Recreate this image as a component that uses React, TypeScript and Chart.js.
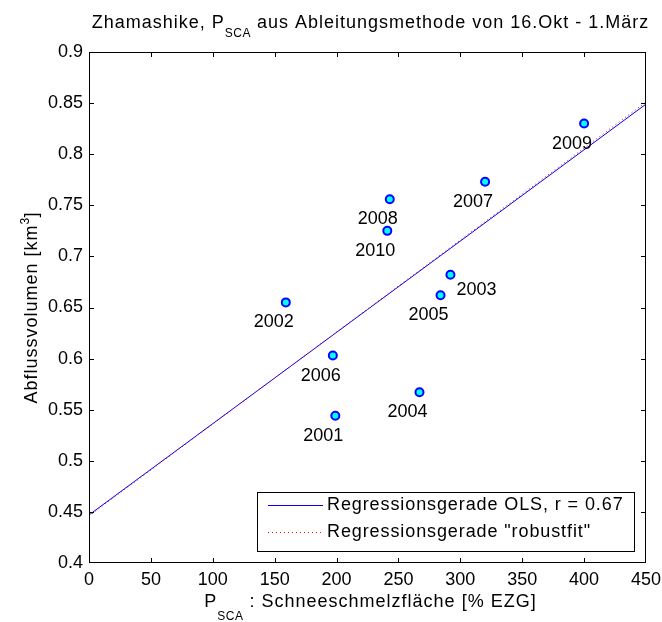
import { useEffect, useRef } from "react";
import { Chart, registerables } from "chart.js";

Chart.register(...registerables);

// ---------- data ----------
const years = ["2001", "2002", "2003", "2004", "2005", "2006", "2007", "2008", "2009", "2010"];
const pscaValues = [199, 159, 292, 267, 284, 197, 320, 243, 400, 241];
const volumeValues = [0.544, 0.655, 0.682, 0.567, 0.662, 0.603, 0.773, 0.756, 0.83, 0.725];

const fitX = [0, 450];
const olsY = [0.447, 0.849];
const robustY = [0.446, 0.851];

const xTicks = [0, 50, 100, 150, 200, 250, 300, 350, 400, 450];
const yTicks = [0.4, 0.45, 0.5, 0.55, 0.6, 0.65, 0.7, 0.75, 0.8, 0.85, 0.9];

const legendLabels = ["Regressionsgerade OLS, r = 0.67", 'Regressionsgerade "robustfit"'];
const titleParts = ["Zhamashike, P", "SCA", " aus Ableitungsmethode von 16.Okt - 1.März"];
const xTitleParts = ["P", "SCA", " : Schneeschmelzfläche [% EZG]"];
const yTitleParts = ["Abflussvolumen [km", "3", "]"];

const FAMILY = "'Liberation Sans', Arial, Helvetica, sans-serif";
const MAIN = `18px ${FAMILY}`;
const SMALL = `12px ${FAMILY}`;

const matlabPlugin = {
  id: "matlabDecor",
  afterDatasetsDraw(chart: any) {
    const ctx: any = chart.ctx;
    const { left, right, top, bottom } = chart.chartArea;
    const xs = chart.scales.x;
    const ys = chart.scales.y;
    ctx.save();

    // year labels
    ctx.letterSpacing = "0px";
    ctx.font = MAIN;
    ctx.fillStyle = "#000";
    ctx.textAlign = "center";
    ctx.textBaseline = "middle";
    years.forEach((yr, i) => {
      const px = xs.getPixelForValue(pscaValues[i]);
      const py = ys.getPixelForValue(volumeValues[i]);
      if (yr === "2003") ctx.fillText(yr, px + 26, py + 15);
      else ctx.fillText(yr, px - 12, py + 20);
    });

    // box
    ctx.strokeStyle = "#000";
    ctx.lineWidth = 1;
    ctx.setLineDash([]);
    ctx.strokeRect(left + 0.5, top + 0.5, right - left - 1, bottom - top - 1);

    // inward ticks
    ctx.beginPath();
    xTicks.forEach((v) => {
      const px = Math.min(Math.round(xs.getPixelForValue(v)), right - 1) + 0.5;
      ctx.moveTo(px, bottom);
      ctx.lineTo(px, bottom - 5);
      ctx.moveTo(px, top);
      ctx.lineTo(px, top + 5);
    });
    yTicks.forEach((v) => {
      const py = Math.min(Math.round(ys.getPixelForValue(v)), bottom - 1) + 0.5;
      ctx.moveTo(left, py);
      ctx.lineTo(left + 5, py);
      ctx.moveTo(right, py);
      ctx.lineTo(right - 5, py);
    });
    ctx.stroke();

    // legend
    const lx = 257.5, ly = 492.5, lw = 377, lh = 59;
    ctx.fillStyle = "#fff";
    ctx.fillRect(lx, ly, lw, lh);
    ctx.strokeStyle = "#000";
    ctx.strokeRect(lx, ly, lw, lh);
    const rows = [505.5, 532.5];
    ctx.strokeStyle = "#0000ff";
    ctx.beginPath();
    ctx.moveTo(268, rows[0]);
    ctx.lineTo(323, rows[0]);
    ctx.stroke();
    ctx.strokeStyle = "#ff0000";
    ctx.setLineDash([1, 3]);
    ctx.beginPath();
    ctx.moveTo(268, rows[1]);
    ctx.lineTo(323, rows[1]);
    ctx.stroke();
    ctx.setLineDash([]);
    ctx.fillStyle = "#000";
    ctx.font = MAIN;
    ctx.letterSpacing = "0.9px";
    ctx.textAlign = "left";
    ctx.textBaseline = "middle";
    ctx.fillText(legendLabels[0], 327, rows[0]);
    ctx.fillText(legendLabels[1], 327, rows[1]);

    // title with subscript
    const drawSub = (parts: string[], cx: number, base: number, subDy: number) => {
      ctx.letterSpacing = "1px";
      ctx.font = MAIN;
      const w0 = ctx.measureText(parts[0]).width;
      const w2 = ctx.measureText(parts[2]).width;
      ctx.font = SMALL;
      ctx.letterSpacing = "0.5px";
      const w1 = ctx.measureText(parts[1]).width;
      const total = w0 + w1 + w2;
      let x = cx - total / 2;
      ctx.textAlign = "left";
      ctx.textBaseline = "alphabetic";
      ctx.letterSpacing = "1px";
      ctx.font = MAIN;
      ctx.fillText(parts[0], x, base);
      x += w0;
      ctx.letterSpacing = "0.5px";
      ctx.font = SMALL;
      ctx.fillText(parts[1], x, base + subDy);
      x += w1;
      ctx.letterSpacing = "1px";
      ctx.font = MAIN;
      ctx.fillText(parts[2], x, base);
    };
    ctx.fillStyle = "#000";
    const cx = (left + right) / 2;
    drawSub(titleParts, cx + 3, 28, 9);
    drawSub(xTitleParts, cx + 3, 607, 13);

    // y title rotated
    ctx.save();
    ctx.translate(37, (top + bottom) / 2);
    ctx.rotate(-Math.PI / 2);
    drawSub(yTitleParts, 0, 0, -8);
    ctx.restore();

    ctx.restore();
  },
};

export default function App() {
  const ref = useRef<HTMLCanvasElement | null>(null);

  useEffect(() => {
    document.body.style.margin = "0";
    const canvas = ref.current;
    if (!canvas) return;
    const chart = new Chart(canvas, {
      type: "scatter",
      data: {
        datasets: [
          {
            type: "line",
            label: legendLabels[0],
            data: fitX.map((x, i) => ({ x, y: olsY[i] })),
            borderColor: "#0000ff",
            borderWidth: 1,
            pointRadius: 0,
            fill: false,
            order: 3,
          } as any,
          {
            type: "line",
            label: legendLabels[1],
            data: fitX.map((x, i) => ({ x, y: robustY[i] })),
            borderColor: "#ff0000",
            borderWidth: 1,
            borderDash: [1, 3],
            pointRadius: 0,
            fill: false,
            order: 2,
          } as any,
          {
            label: "Jahre",
            data: pscaValues.map((x, i) => ({ x, y: volumeValues[i] })),
            backgroundColor: "#00ffff",
            borderColor: "#0000ff",
            borderWidth: 2,
            pointRadius: 4,
            order: 1,
          },
        ],
      },
      options: {
        responsive: false,
        animation: false,
        layout: { padding: { top: 52, right: 16, left: 0, bottom: 0 } },
        plugins: {
          legend: { display: false },
          tooltip: { enabled: false },
          title: { display: false },
        },
        scales: {
          x: {
            type: "linear",
            min: 0,
            max: 450,
            afterBuildTicks: (s: any) => {
              s.ticks = xTicks.map((v) => ({ value: v }));
            },
            afterFit: (s: any) => {
              s.height = 59;
              s.paddingLeft = 0;
              s.paddingRight = 0;
            },
            grid: { display: false, drawTicks: false },
            border: { display: false },
            ticks: {
              padding: 6,
              color: "#000",
              font: { family: FAMILY, size: 18 },
              maxRotation: 0,
              autoSkip: false,
              callback: (v: any) => String(Number(Number(v).toFixed(2))),
            },
          },
          y: {
            type: "linear",
            min: 0.4,
            max: 0.9,
            afterBuildTicks: (s: any) => {
              s.ticks = yTicks.map((v) => ({ value: v }));
            },
            afterFit: (s: any) => {
              s.width = 89;
              s.paddingTop = 0;
              s.paddingBottom = 0;
            },
            grid: { display: false, drawTicks: false },
            border: { display: false },
            ticks: {
              padding: 6,
              color: "#000",
              font: { family: FAMILY, size: 18 },
              autoSkip: false,
              callback: (v: any) => String(Number(Number(v).toFixed(2))),
            },
          },
        },
      },
      plugins: [matlabPlugin],
    });
    return () => chart.destroy();
  }, []);

  return (
    <div style={{ width: 662, height: 622, background: "#fff" }}>
      <canvas ref={ref} width={662} height={622} style={{ display: "block" }} />
    </div>
  );
}
